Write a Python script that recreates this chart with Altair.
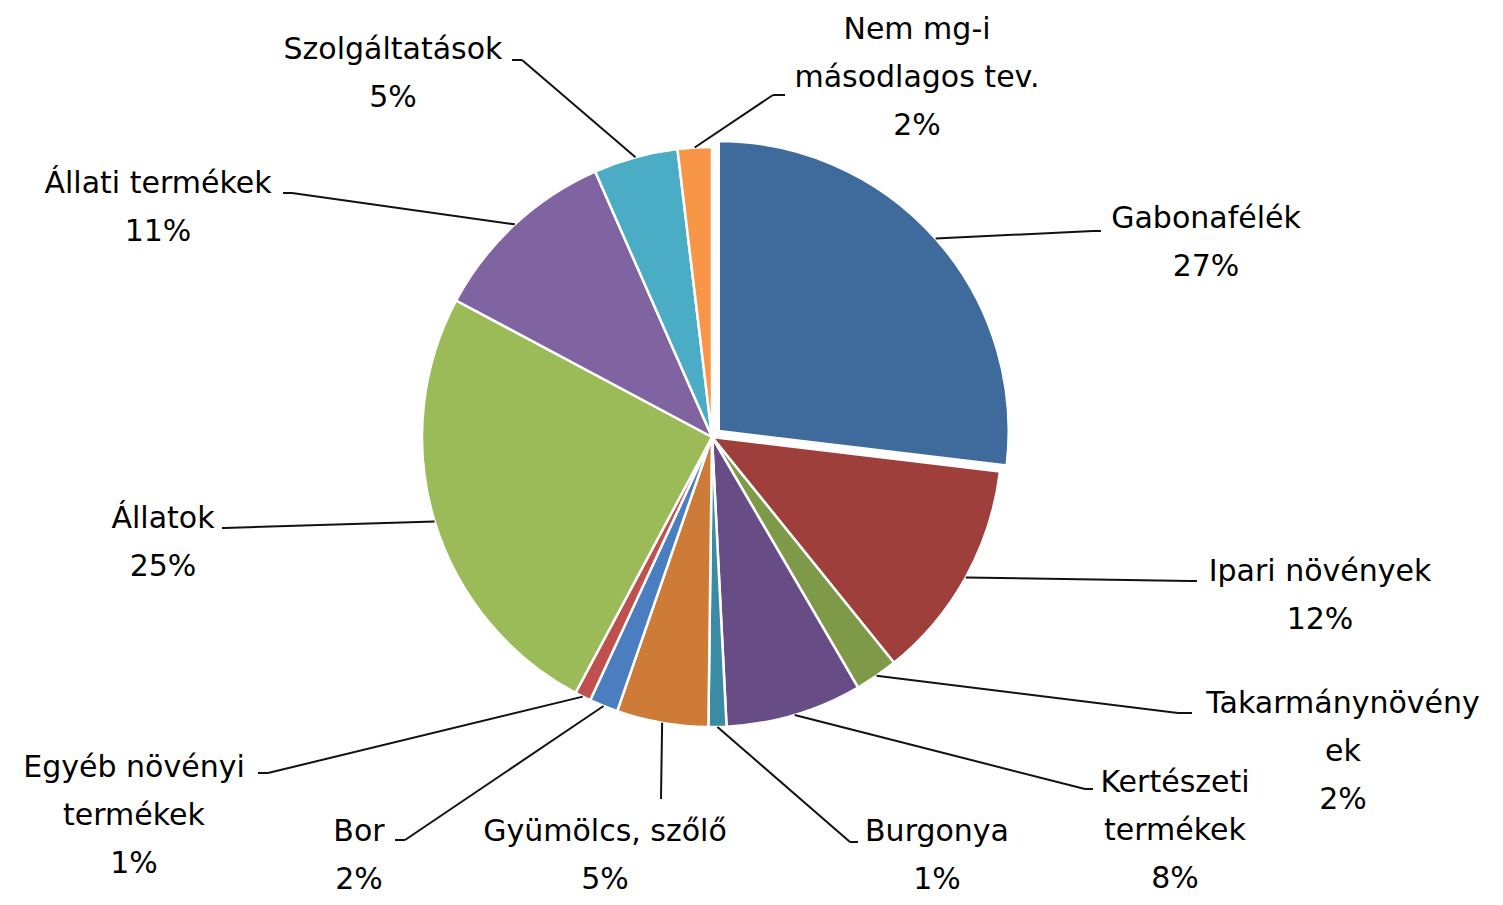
import altair as alt
import pandas as pd

# ---- data ----
categories = ["Gabonafélék", "Ipari növények", "Takarmánynövények", "Kertészeti termékek",
              "Burgonya", "Gyümölcs, szőlő", "Bor", "Egyéb növényi termékek",
              "Állatok", "Állati termékek", "Szolgáltatások", "Nem mg-i másodlagos tev."]
shares = [26.9, 12.3, 2.4, 7.6, 1.0, 5.1, 1.6, 0.9, 25.0, 10.6, 4.7, 1.9]
label_names = ["Gabonafélék", "Ipari növények", "Takarmánynövény\nek", "Kertészeti\ntermékek",
               "Burgonya", "Gyümölcs, szőlő", "Bor", "Egyéb növényi\ntermékek",
               "Állatok", "Állati termékek", "Szolgáltatások", "Nem mg-i\nmásodlagos tev."]

# ---- styles ----
colors = ["#3F6A9C", "#9E3F3C", "#7E9A48", "#684C86", "#3A8BA3", "#CD7B37",
          "#4A7EC0", "#C0504D", "#9BBB59", "#8064A2", "#4BACC6", "#F79646"]

# ---- layout (pixels relative to the pie centre, y up) ----
R = 290
explode = [9, 0, 0, 0, 0, 0, 0, 0, 0, 0, 0, 0]
text_x = [494, 608, 631, 463, 225, -107, -353, -578, -549, -554, -319, 205]
text_y = [233, -120, -252, -331, -380, -380, -380, -316, -67, 268, 402, 422]
elbow_x = [381, 478, 466, 373, 138, -51, -307, -444, -487, -420, -190, 61]
elbow_y = [206, -144, -276, -352, -405, -362, -403, -336, -91, 244, 377, 342]
end_x = [389, 485, 480, 381, 146, -51, -317, -454, -490, -429, -200, 73]
end_y = [206, -144, -276, -352, -405, -362, -403, -336, -91, 244, 377, 342]

W, H = 1487, 889
CX, CY = 704, 429

df = pd.DataFrame({
    "idx": list(range(len(categories))),
    "cat": categories,
    "value": shares,
    "name": label_names,
    "explode": explode,
    "tx": text_x, "ty": text_y,
    "bx": elbow_x, "by": elbow_y,
    "qx": end_x, "qy": end_y,
})

xs = alt.Scale(domain=[-CX, W - CX], nice=False, zero=False)
ys = alt.Scale(domain=[-(H - CY), CY], nice=False, zero=False)

base = alt.Chart(df)

arcs = base.mark_arc(radius=R, stroke="white", strokeWidth=2.5).encode(
    x=alt.X("ex:Q", scale=xs, axis=None),
    y=alt.Y("ey:Q", scale=ys, axis=None),
    theta=alt.Theta("start:Q", scale=alt.Scale(domain=[0, 100]), stack=None),
    theta2="end:Q",
    color=alt.Color("cat:N", scale=alt.Scale(domain=categories, range=colors), legend=None),
)

lead1 = base.mark_rule(color="#111111", strokeWidth=2).encode(
    x=alt.X("sx:Q", scale=xs, axis=None),
    y=alt.Y("sy:Q", scale=ys, axis=None),
    x2="bx:Q",
    y2="by:Q",
)

lead2 = base.mark_rule(color="#111111", strokeWidth=2).encode(
    x=alt.X("bx:Q", scale=xs, axis=None),
    y=alt.Y("by:Q", scale=ys, axis=None),
    x2="qx:Q",
    y2="qy:Q",
)

texts = base.mark_text(
    lineBreak="\n", align="center", baseline="top",
    font="DejaVu Sans", fontSize=30, lineHeight=48, color="#000000",
).encode(
    x=alt.X("tx:Q", scale=xs, axis=None),
    y=alt.Y("ty:Q", scale=ys, axis=None),
    text="label:N",
)

chart = alt.layer(arcs, lead1, lead2, texts).transform_window(
    cum="sum(value)", sort=[alt.SortField("idx")], frame=[None, 0]
).transform_calculate(
    start="datum.cum - datum.value",
    end="datum.cum",
    mid="(datum.cum - datum.value / 2) / 100 * 2 * PI",
    ex="datum.explode * sin(datum.mid)",
    ey="datum.explode * cos(datum.mid)",
    sx=f"datum.ex + {R} * sin(datum.mid)",
    sy=f"datum.ey + {R} * cos(datum.mid)",
    label="datum.name + '\\n' + format(datum.value, '.0f') + '%'",
).properties(
    width=W, height=H, padding=0,
    autosize=alt.AutoSizeParams(type="none"),
).configure_view(stroke=None)

chart.save("out.html", embed_options={"renderer": "svg", "actions": False})
